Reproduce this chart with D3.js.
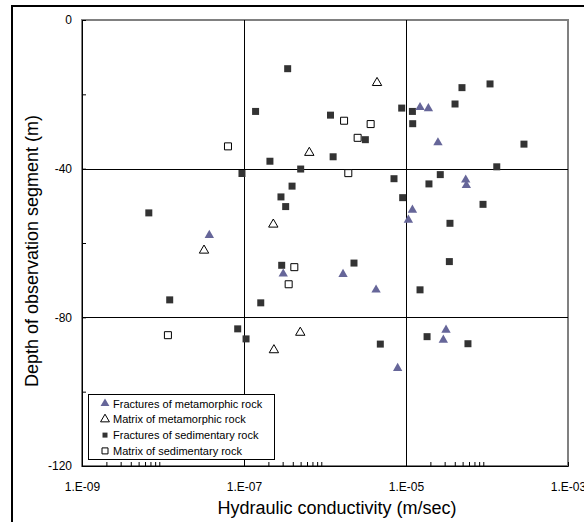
<!DOCTYPE html>
<html>
<head>
<meta charset="utf-8">
<script src="https://cdn.jsdelivr.net/npm/d3@7"></script>
<style>
  body { margin: 0; background: #fff; }
  svg { display: block; font-family: Arial, "Liberation Sans", sans-serif; }
</style>
</head>
<body>
<svg id="chart" width="584" height="522"></svg>
<script>
// hydraulic conductivity (m/sec) and depth (m) per group
var fracMetaK = [3.73e-8, 3.05e-7, 1.67e-6, 4.27e-6, 7.89e-6, 1.49e-5, 1.89e-5, 2.48e-5, 1.20e-5, 1.07e-5, 5.46e-5, 5.56e-5, 3.12e-5, 2.89e-5];
var fracMetaD = [-57.9, -68.3, -68.4, -72.6, -93.7, -23.5, -23.8, -33.0, -51.1, -53.8, -43.0, -44.5, -83.4, -86.1];

var matMetaK = [3.21e-8, 2.30e-7, 6.40e-7, 4.39e-6, 4.95e-7, 2.34e-7];
var matMetaD = [-62.0, -55.0, -35.7, -16.9, -84.1, -88.8];

var fracSedK = [6.68e-9, 1.21e-8, 8.36e-8, 1.06e-7, 9.44e-8, 3.46e-7, 1.39e-7, 1.17e-6, 3.15e-6, 8.85e-6,
                1.20e-5, 1.21e-5, 1.26e-6, 2.09e-7, 5.01e-7, 7.11e-6, 3.92e-7, 2.86e-7, 9.10e-6, 3.27e-7,
                4.91e-5, 1.09e-4, 4.03e-5, 2.86e-4, 1.32e-4, 2.65e-5, 1.92e-5, 8.93e-5, 3.49e-5, 2.92e-7,
                2.28e-6, 1.61e-7, 4.82e-6, 3.43e-5, 1.49e-5, 1.82e-5, 5.82e-5];
var fracSedD = [-51.9, -75.3, -83.1, -85.8, -41.3, -13.1, -24.6, -25.6, -32.2, -23.7,
                -24.6, -27.9, -36.8, -38.0, -40.1, -42.7, -44.7, -47.6, -47.8, -50.2,
                -18.2, -17.2, -22.6, -33.4, -39.5, -41.6, -44.1, -49.6, -54.7, -66.0,
                -65.4, -76.1, -87.2, -65.0, -72.6, -85.2, -87.1];

var matSedK = [6.34e-8, 1.72e-6, 3.66e-6, 2.53e-6, 1.94e-6, 4.18e-7, 3.56e-7, 1.15e-8];
var matSedD = [-34.0, -27.1, -28.0, -31.7, -41.2, -66.5, -71.1, -84.8];

var xMajor = [1e-9, 1e-7, 1e-5, 1e-3];
var xMajorLabels = ['1.E-09', '1.E-07', '1.E-05', '1.E-03'];
var yTicks = [0, -20, -40, -60, -80, -100, -120];
var yLabelTicks = [0, -40, -80, -120];

var seriesNames = ['Fractures of metamorphic rock', 'Matrix of metamorphic rock',
                   'Fractures of sedimentary rock', 'Matrix of sedimentary rock'];

//------------------------------------------------------------
var plotLeft = 82, plotRight = 568, plotTop = 20, plotBottom = 466;
var font = 'Arial, "Liberation Sans", sans-serif';

var svg = d3.select('#chart');

// outer chart border (cut by the picture edge on right and bottom)
svg.append('rect')
    .attr('x', 12).attr('y', 6)
    .attr('width', 600).attr('height', 560)
    .attr('fill', 'none').attr('stroke', '#000').attr('stroke-width', 2);

var x = d3.scaleLog().domain([1e-9, 1e-3]).range([plotLeft, plotRight]);
var y = d3.scaleLinear().domain([0, -120]).range([plotTop, plotBottom]);

// plot area frame
svg.append('rect')
    .attr('x', plotLeft).attr('y', plotTop)
    .attr('width', plotRight - plotLeft).attr('height', plotBottom - plotTop)
    .attr('fill', '#fff').attr('stroke', '#808080').attr('stroke-width', 2);

// gridlines
var grid = svg.append('g').attr('class', 'grid');
grid.selectAll('line.v').data([1e-7, 1e-5]).enter().append('line')
    .attr('x1', function (d) { return Math.round(x(d)) + 0.5; })
    .attr('x2', function (d) { return Math.round(x(d)) + 0.5; })
    .attr('y1', plotTop).attr('y2', plotBottom)
    .attr('stroke', '#000');
grid.selectAll('line.h').data([-40, -80]).enter().append('line')
    .attr('y1', function (d) { return Math.round(y(d)) + 0.5; })
    .attr('y2', function (d) { return Math.round(y(d)) + 0.5; })
    .attr('x1', plotLeft).attr('x2', plotRight)
    .attr('stroke', '#000');

// x axis with log minor ticks
var xTickVals = [];
xMajor.forEach(function (m, i) {
  if (i < xMajor.length - 1) {
    [1, 2, 3, 4, 5, 6, 7, 8, 9].forEach(function (k) { xTickVals.push(m * k); });
  } else {
    xTickVals.push(m);
  }
});

var xAxis = d3.axisBottom(x)
    .tickValues(xTickVals)
    .tickSize(-4)
    .tickSizeOuter(0)
    .tickPadding(16)
    .tickFormat(function (d) {
      var i = xMajor.findIndex(function (m) { return Math.abs(d / m - 1) < 1e-6; });
      return i >= 0 ? xMajorLabels[i] : '';
    });

var gx = svg.append('g').attr('transform', 'translate(0,' + plotBottom + ')').call(xAxis);
gx.selectAll('text').attr('font-size', 12).attr('fill', '#000').attr('font-family', font);
gx.selectAll('line, path').attr('stroke', '#000');

var yAxis = d3.axisLeft(y)
    .tickValues(yTicks)
    .tickSize(-4)
    .tickSizeOuter(0)
    .tickPadding(10)
    .tickFormat(function (d) { return yLabelTicks.indexOf(d) >= 0 ? d : ''; });

var gy = svg.append('g').attr('transform', 'translate(' + plotLeft + ',0)').call(yAxis);
gy.selectAll('text').attr('font-size', 12).attr('fill', '#000').attr('font-family', font);
gy.selectAll('line, path').attr('stroke', '#000');

// axis titles
svg.append('text')
    .attr('x', 337).attr('y', 514)
    .attr('text-anchor', 'middle')
    .attr('font-size', 18)
    .attr('font-family', font)
    .text('Hydraulic conductivity (m/sec)');

svg.append('text')
    .attr('transform', 'translate(38,251) rotate(-90)')
    .attr('text-anchor', 'middle')
    .attr('font-size', 18)
    .attr('font-family', font)
    .text('Depth of observation segment (m)');

//------------------------------------------------------------
// markers
var triPath = d3.symbol(d3.symbolTriangle, 38)();
var triSmall = d3.symbol(d3.symbolTriangle, 34)();
var sqPath = d3.symbol(d3.symbolSquare, 49)();
var sqSmall = d3.symbol(d3.symbolSquare, 36)();

var styles = [
  { path: triPath, fill: '#666699', stroke: 'none', legendPath: triSmall },
  { path: triPath, fill: '#fff', stroke: '#000', legendPath: triSmall },
  { path: sqPath, fill: '#333333', stroke: 'none', legendPath: d3.symbol(d3.symbolSquare, 25)() },
  { path: sqPath, fill: '#fff', stroke: '#000', legendPath: sqSmall }
];

function toPoints(ks, ds) {
  return ks.map(function (k, i) { return { k: k, d: ds[i] }; });
}

var groups = [
  toPoints(fracMetaK, fracMetaD),
  toPoints(matMetaK, matMetaD),
  toPoints(fracSedK, fracSedD),
  toPoints(matSedK, matSedD)
];

// draw sedimentary first, metamorphic on top
[2, 3, 1, 0].forEach(function (gi) {
  var st = styles[gi];
  svg.append('g').selectAll('path').data(groups[gi]).enter().append('path')
      .attr('d', st.path)
      .attr('transform', function (p) { return 'translate(' + x(p.k) + ',' + y(p.d) + ')'; })
      .attr('fill', st.fill)
      .attr('stroke', st.stroke)
      .attr('stroke-width', 1);
});

//------------------------------------------------------------
// legend
var legend = svg.append('g').attr('class', 'legend');
legend.append('rect')
    .attr('x', 88.5).attr('y', 394.5)
    .attr('width', 186).attr('height', 65)
    .attr('fill', '#fff').attr('stroke', '#000');

var items = legend.selectAll('g.item').data(seriesNames).enter().append('g')
    .attr('transform', function (d, i) { return 'translate(105,' + (403.5 + i * 15.8) + ')'; });
items.append('path')
    .attr('d', function (d, i) { return styles[i].legendPath; })
    .attr('fill', function (d, i) { return styles[i].fill; })
    .attr('stroke', function (d, i) { return styles[i].stroke; });
items.append('text')
    .attr('x', 8).attr('y', 4)
    .attr('font-size', 11)
    .attr('font-family', font)
    .text(function (d) { return d; });
</script>
</body>
</html>
